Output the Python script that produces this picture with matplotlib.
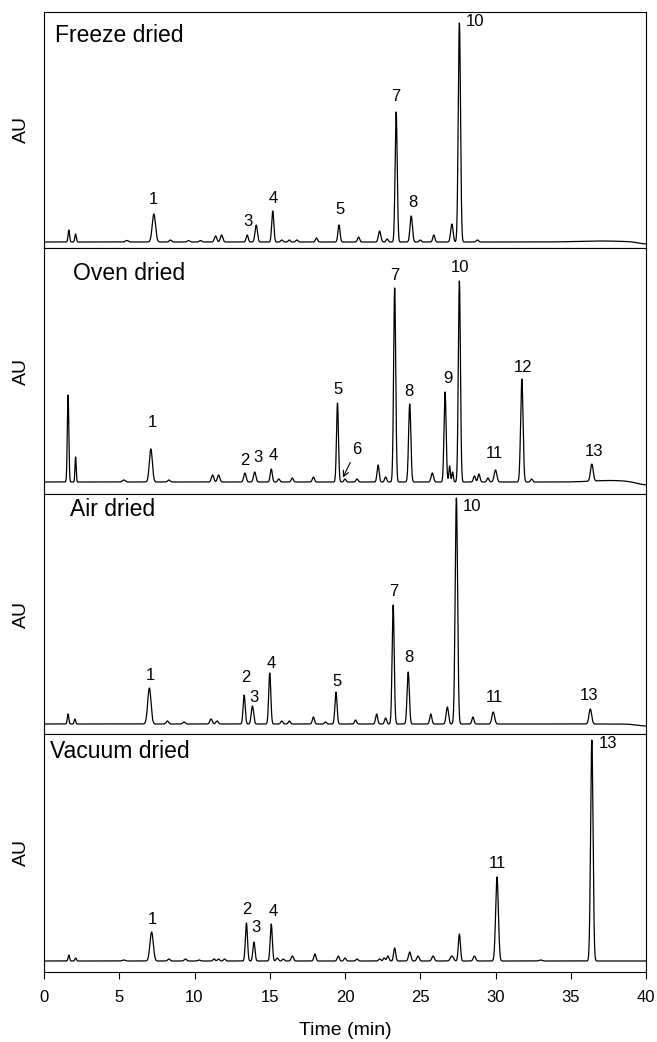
import numpy as np
import matplotlib
matplotlib.use("Agg")
import matplotlib.pyplot as plt

plt.rcParams['font.family'] = ['Liberation Sans', 'DejaVu Sans']

# ---------------- data (peak retention times in min, heights in AU-equivalent) ----------------
panel_titles = ["Freeze dried", "Oven dried", "Air dried", "Vacuum dried"]

freeze_t = [1.65, 2.1, 5.5, 7.3, 8.4, 9.6, 10.4, 11.4, 11.8, 13.5, 14.1, 15.2, 15.8, 16.3, 16.8,
            18.1, 19.6, 20.9, 22.3, 22.8, 23.4, 24.4, 25.0, 25.9, 27.1, 27.6, 28.8, 37.0, 40.0]
freeze_h = [12, 8, 1.5, 28, 2, 1.5, 1.5, 6, 7, 7, 17, 31, 2, 2, 2,
            4, 17, 5, 11, 3, 130, 26, 2, 7, 18, 219, 2, 1.0, -2]
freeze_w = [0.05, 0.05, 0.1, 0.11, 0.08, 0.08, 0.08, 0.08, 0.08, 0.07, 0.08, 0.07, 0.07, 0.07, 0.07,
            0.07, 0.07, 0.07, 0.08, 0.07, 0.07, 0.08, 0.07, 0.07, 0.08, 0.075, 0.08, 1.5, 0.5]
freeze_labels = ["1", "3", "4", "5", "7", "8", "10"]
freeze_label_t = [7.3, 13.55, 15.2, 19.65, 23.4, 24.5, 28.65]
freeze_label_y = [42, 20, 43, 32, 145, 39, 220]

oven_t = [1.6, 2.1, 5.3, 7.1, 8.3, 11.2, 11.6, 13.35, 14.0, 15.1, 15.6, 16.5, 17.9, 19.5, 20.0,
          20.8, 22.2, 22.7, 23.3, 24.3, 25.8, 26.65, 26.95, 27.15, 27.6, 28.6, 28.9, 29.5, 30.0,
          31.75, 32.4, 36.4, 37.6, 40.0]
oven_h = [87, 25, 2, 33, 2, 7, 7, 9, 10, 13, 3, 4, 5, 79, 3,
          3, 17, 5, 194, 78, 9, 90, 16, 10, 201, 6, 8, 4, 12,
          103, 3, 17, 1.5, -3]
oven_w = [0.05, 0.04, 0.1, 0.1, 0.08, 0.08, 0.08, 0.08, 0.08, 0.07, 0.07, 0.07, 0.07, 0.065, 0.07,
          0.07, 0.07, 0.07, 0.07, 0.075, 0.08, 0.07, 0.05, 0.05, 0.07, 0.07, 0.07, 0.07, 0.09,
          0.08, 0.07, 0.09, 1.2, 0.6]
oven_labels = ["1", "2", "3", "4", "5", "6", "7", "8", "9", "10", "11", "12", "13"]
oven_label_t = [7.2, 13.35, 14.2, 15.2, 19.55, 20.75, 23.3, 24.25, 26.85, 27.65, 29.95, 31.8, 36.55]
oven_label_y = [60, 22, 25, 27, 93, 33, 207, 91, 104, 215, 29, 115, 31]

air_t = [1.6, 2.05, 7.0, 8.2, 9.3, 11.1, 11.5, 13.3, 13.85, 15.0, 15.8, 16.3, 17.9, 18.7, 19.4,
         20.7, 22.1, 22.7, 23.2, 24.2, 25.7, 26.8, 27.4, 28.5, 29.85, 36.3, 40.0]
air_h = [10, 5, 36, 3, 2, 5, 3, 29, 18, 51, 3, 3, 7, 2, 32,
         4, 10, 6, 119, 52, 10, 17, 226, 7, 12, 15, -2]
air_w = [0.05, 0.05, 0.11, 0.08, 0.08, 0.08, 0.08, 0.07, 0.08, 0.07, 0.07, 0.07, 0.07, 0.07, 0.07,
         0.07, 0.07, 0.07, 0.07, 0.075, 0.07, 0.08, 0.08, 0.07, 0.09, 0.09, 0.6]
air_labels = ["1", "2", "3", "4", "5", "7", "8", "10", "11", "13"]
air_label_t = [7.05, 13.4, 13.95, 15.1, 19.45, 23.25, 24.25, 28.45, 29.95, 36.2]
air_label_y = [49, 46, 26, 61, 43, 132, 66, 218, 26, 29]

vac_t = [1.65, 2.1, 5.3, 7.15, 8.3, 9.4, 10.3, 11.3, 11.6, 12.0, 13.45, 13.95, 15.1, 15.5, 15.9,
         16.5, 18.0, 19.55, 20.0, 20.8, 22.3, 22.6, 22.85, 23.3, 24.3, 24.85, 25.85, 27.1, 27.6,
         28.6, 30.1, 33.0, 36.4]
vac_h = [6, 3, 1, 29, 2, 2, 1, 2, 2, 2, 38, 19, 37, 3, 2,
         5, 7, 5, 3, 2, 2, 3, 5, 13, 9, 5, 5, 5, 27,
         5, 84, 1, 221]
vac_w = [0.05, 0.05, 0.1, 0.11, 0.08, 0.08, 0.08, 0.07, 0.07, 0.07, 0.07, 0.07, 0.07, 0.07, 0.07,
         0.08, 0.07, 0.07, 0.07, 0.07, 0.07, 0.07, 0.07, 0.07, 0.08, 0.08, 0.08, 0.1, 0.07,
         0.08, 0.09, 0.1, 0.08]
vac_labels = ["1", "2", "3", "4", "11", "13"]
vac_label_t = [7.2, 13.45, 14.05, 15.2, 30.1, 37.5]
vac_label_y = [42, 52, 33, 49, 97, 217]

x_ticks = [0, 5, 10, 15, 20, 25, 30, 35, 40]

# ---------------- layout ----------------
W, H = 657, 1042
fig = plt.figure(figsize=(W / 100, H / 100), dpi=100)

left_px, right_px = 44, 646
panel_px = [(12, 248), (248, 494), (494, 734), (734, 972)]
ylims = [(-6, 230), (-12, 234), (-10, 230), (-11, 227)]
title_px = [(55, 35), (73, 273), (70, 509), (50, 752)]

peaks = [(freeze_t, freeze_h, freeze_w), (oven_t, oven_h, oven_w),
         (air_t, air_h, air_w), (vac_t, vac_h, vac_w)]
labels = [(freeze_labels, freeze_label_t, freeze_label_y),
          (oven_labels, oven_label_t, oven_label_y),
          (air_labels, air_label_t, air_label_y),
          (vac_labels, vac_label_t, vac_label_y)]

t = np.linspace(0, 40, 8001)

for i in range(4):
    top, bot = panel_px[i]
    ax = fig.add_axes([left_px / W, 1 - bot / H, (right_px - left_px) / W, (bot - top) / H])
    pt, ph, pw = peaks[i]
    y = np.zeros_like(t)
    for c, hgt, w in zip(pt, ph, pw):
        y += hgt * np.exp(-0.5 * ((t - c) / w) ** 2)
    ax.plot(t, y, color='black', lw=0.9)
    ax.set_xlim(0, 40)
    ax.set_ylim(*ylims[i])
    ax.set_yticks([])
    for sp in ax.spines.values():
        sp.set_linewidth(0.8)
    if i < 3:
        ax.set_xticks([])
    else:
        ax.set_xticks(x_ticks)
        ax.tick_params(axis='x', direction='out', length=5, width=0.8, labelsize=12, pad=8)
        ax.set_xlabel("Time (min)", fontsize=14, labelpad=12)
    ax.set_ylabel("AU", fontsize=14)
    ax.yaxis.set_label_coords(-14 / (right_px - left_px), 0.5)
    tx, ty = title_px[i]
    fig.text(tx / W, 1 - ty / H, panel_titles[i], fontsize=16.5, ha='left', va='center')
    for txt, lt, ly in zip(*labels[i]):
        ax.text(lt, ly, txt, fontsize=12, ha='center', va='center')
    if i == 1:
        ax.annotate("", xy=(19.78, 2), xytext=(20.43, 22),
                    arrowprops=dict(arrowstyle='->', color='black', lw=0.8))

fig.savefig("out.png", dpi=100)
